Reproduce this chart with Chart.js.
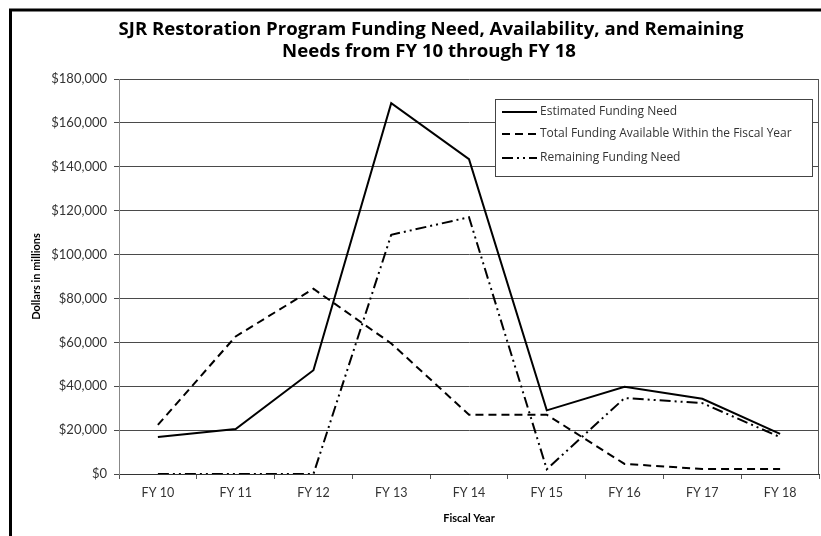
<!DOCTYPE html>
<html>
<head>
<meta charset="utf-8">
<script src="https://cdn.jsdelivr.net/npm/chart.js@4.4.1/dist/chart.umd.min.js"></script>
<style>
  html, body { margin: 0; padding: 0; background: #fff; }
  #wrap { width: 821px; height: 536px; position: relative; }
</style>
</head>
<body>
<div id="wrap"><canvas id="c" width="821" height="536"></canvas></div>
<script>
const titleLines = ["SJR Restoration Program Funding Need, Availability, and Remaining", "Needs from FY 10 through FY 18"];
const categories = ["FY 10", "FY 11", "FY 12", "FY 13", "FY 14", "FY 15", "FY 16", "FY 17", "FY 18"];
const estimatedNeed = [16900, 20500, 47300, 169000, 143500, 29000, 39700, 34300, 18300];
const fundingAvailable = [22400, 62700, 84400, 59500, 27000, 27000, 4600, 2300, 2300];
const remainingNeed = [0, 0, 0, 109000, 117000, 2200, 34600, 32300, 16800];
const seriesNames = ["Estimated Funding Need", "Total Funding Available Within the Fiscal Year", "Remaining Funding Need"];
const yTitle = "Dollars in millions";
const xTitle = "Fiscal Year";

const FONT = "Lato, 'Open Sans', sans-serif";
const TFONT = "'Open Sans', Lato, sans-serif";
const dashAvail = [8, 5];
const dashRemain = [11, 4, 2, 4, 2, 4];

const framePlugin = {
  id: 'frame',
  beforeDraw(chart) {
    const ctx = chart.ctx;
    ctx.save();
    ctx.fillStyle = '#fff';
    ctx.fillRect(0, 0, chart.width, chart.height);
    ctx.strokeStyle = '#000';
    ctx.lineWidth = 3;
    ctx.beginPath();
    ctx.moveTo(10.5, 545);
    ctx.lineTo(10.5, 10);
    ctx.lineTo(830, 10);
    ctx.stroke();
    ctx.restore();
  },
  afterDraw(chart) {
    const ctx = chart.ctx;
    const a = chart.chartArea;
    ctx.save();
    // plot area right border
    ctx.strokeStyle = '#555';
    ctx.lineWidth = 1;
    ctx.beginPath();
    ctx.moveTo(Math.round(a.right) - 0.5, a.top);
    ctx.lineTo(Math.round(a.right) - 0.5, a.bottom);
    ctx.stroke();
    // title
    ctx.fillStyle = '#000';
    ctx.font = "bold 18px " + TFONT;
    let w = ctx.measureText(titleLines[0]).width;
    const size = Math.max(14, Math.min(22, 18 * 625 / w));
    ctx.font = "bold " + size.toFixed(1) + "px " + TFONT;
    ctx.textAlign = 'center';
    ctx.textBaseline = 'middle';
    ctx.fillText(titleLines[0], 431, 30);
    ctx.fillText(titleLines[1], 429, 52);
    // legend
    const lx = 495, ly = 99, lw = 317, lh = 77;
    ctx.fillStyle = '#fff';
    ctx.fillRect(lx, ly, lw, lh);
    ctx.strokeStyle = '#444';
    ctx.lineWidth = 1;
    ctx.strokeRect(lx + 0.5, ly + 0.5, lw, lh);
    const ys = [112, 134, 158];
    const dashes = [[], dashAvail, dashRemain];
    ctx.font = "12px " + TFONT;
    ctx.textAlign = 'left';
    for (let i = 0; i < 3; i++) {
      ctx.strokeStyle = '#000';
      ctx.lineWidth = 2;
      ctx.setLineDash(dashes[i]);
      ctx.beginPath();
      ctx.moveTo(502, ys[i]);
      ctx.lineTo(537, ys[i]);
      ctx.stroke();
      ctx.setLineDash([]);
      ctx.fillStyle = '#333';
      ctx.fillText(seriesNames[i], 540, ys[i]);
    }
    ctx.restore();
  }
};

const ctx = document.getElementById('c').getContext('2d');
new Chart(ctx, {
  type: 'line',
  data: {
    labels: categories,
    datasets: [
      { label: seriesNames[0], data: estimatedNeed, borderColor: '#000', borderWidth: 2, pointRadius: 0, tension: 0, fill: false },
      { label: seriesNames[1], data: fundingAvailable, borderColor: '#000', borderWidth: 2, borderDash: dashAvail, pointRadius: 0, tension: 0, fill: false },
      { label: seriesNames[2], data: remainingNeed, borderColor: '#000', borderWidth: 2, borderDash: dashRemain, pointRadius: 0, tension: 0, fill: false }
    ]
  },
  options: {
    responsive: false,
    animation: false,
    layout: { padding: { top: 79, left: 20, right: 2, bottom: 0 } },
    plugins: {
      legend: { display: false },
      title: { display: false },
      tooltip: { enabled: false }
    },
    scales: {
      x: {
        offset: true,
        grid: { offset: true, drawOnChartArea: false, drawTicks: true, tickLength: 5, color: '#555' },
        border: { display: true, color: '#333', width: 1 },
        ticks: { color: '#333', font: { family: FONT, size: 12.5 }, padding: 6, maxRotation: 0, autoSkip: false },
        title: { display: true, text: xTitle, color: '#000', font: { family: FONT, size: 11, weight: 'bold' }, padding: { top: 0, bottom: 11 } },
        afterFit(s) { s.height = 62; }
      },
      y: {
        min: 0, max: 180000,
        grid: { color: '#4a4a4a', lineWidth: 1, tickLength: 5, drawTicks: true },
        border: { display: true, color: '#888', width: 1 },
        ticks: {
          stepSize: 20000, padding: 7, color: '#333', font: { family: FONT, size: 13 },
          callback: (v) => '$' + Number(v).toLocaleString('en-US')
        },
        title: { display: true, text: yTitle, color: '#000', font: { family: FONT, size: 11, weight: 'bold' }, padding: { top: 10, bottom: 0 } },
        afterFit(s) { s.width = 99; }
      }
    }
  },
  plugins: [framePlugin]
});
</script>
</body>
</html>
